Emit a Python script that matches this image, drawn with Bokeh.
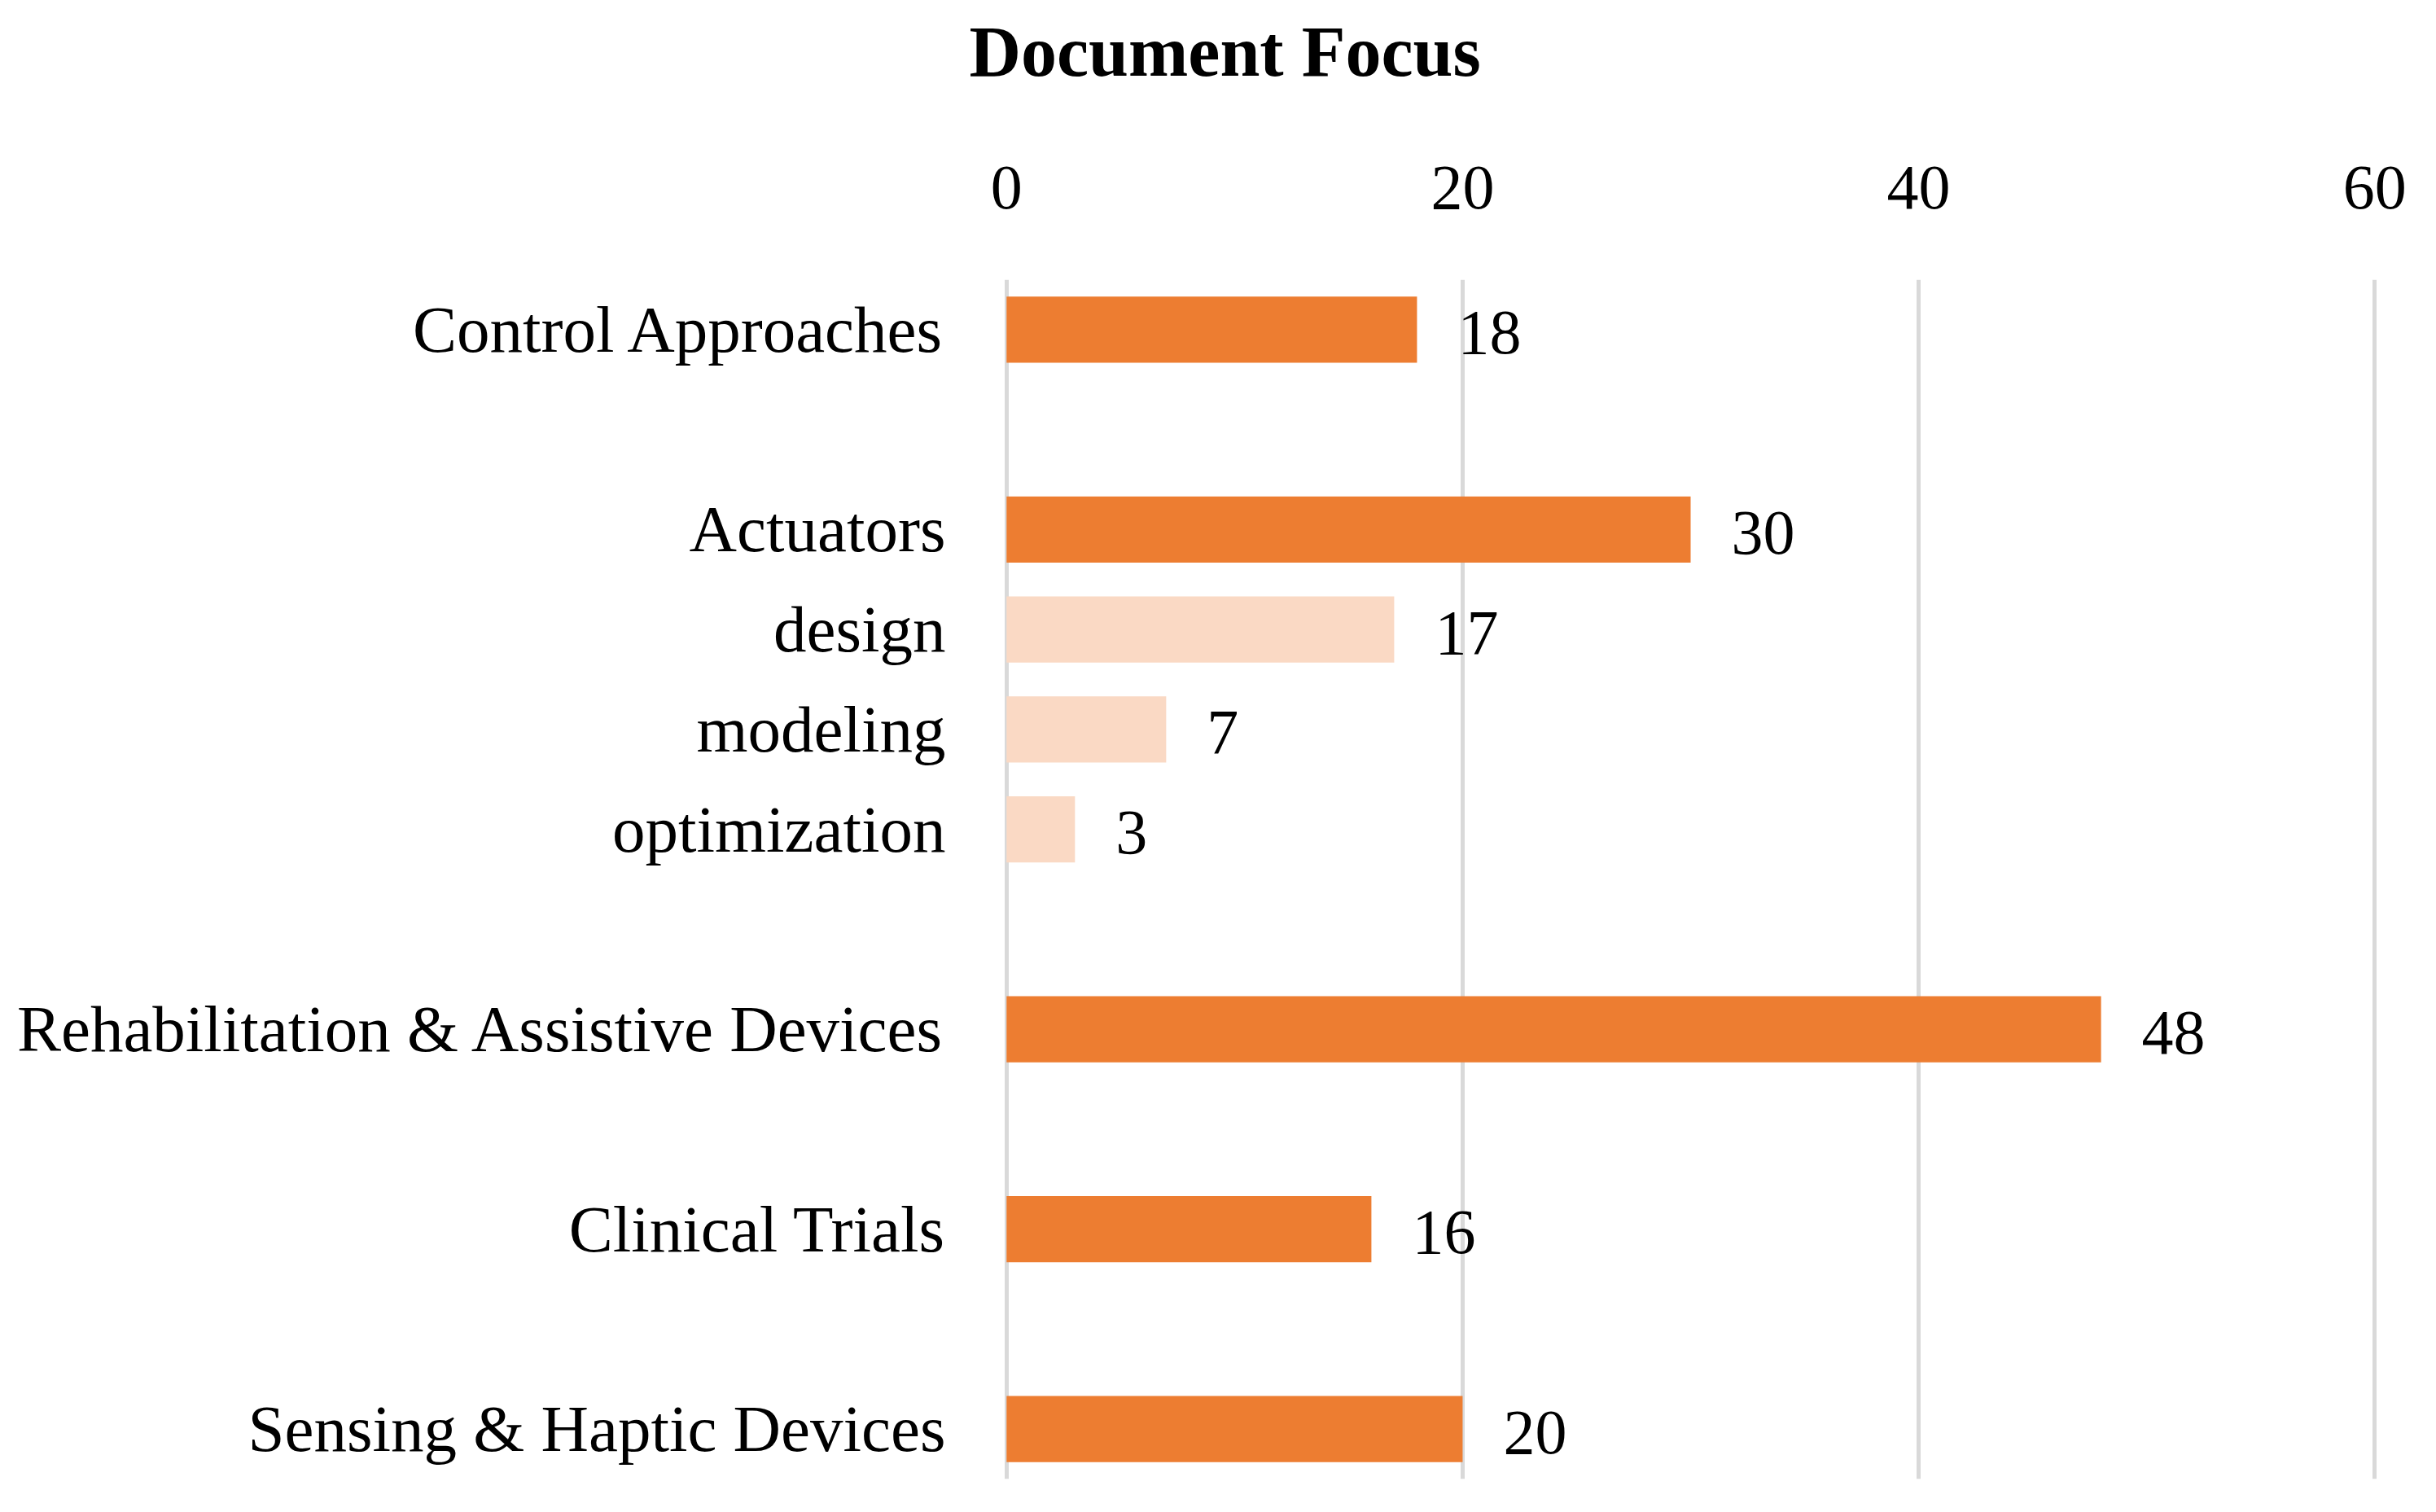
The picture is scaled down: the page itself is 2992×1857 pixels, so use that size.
from bokeh.plotting import figure
from bokeh.models import ColumnDataSource, Range1d, FixedTicker, LinearAxis, Title
from bokeh.core.properties import value
from bokeh.embed import file_html
from bokeh.resources import INLINE

# ---- data ----
categories = ["Control Approaches", "Actuators", "design", "modeling", "optimization",
              "Rehabilitation & Assistive Devices", "Clinical Trials", "Sensing & Haptic Devices"]
values = [18, 30, 17, 7, 3, 48, 16, 20]
group = [0, 1, 1, 1, 1, 2, 3, 4]
level = ["main", "main", "sub", "sub", "sub", "main", "main", "main"]
x_ticks = [0, 20, 40, 60]
title_text = "Document Focus"

# ---- derived ----
rows = [i + g for i, g in enumerate(group)]
n_slots = rows[-1] + 1
palette = {"main": "#ED7D31", "sub": "#FAD9C4"}
colors = [palette[l] for l in level]
labels = [str(v) for v in values]

src = ColumnDataSource(dict(y=rows, v=values, c=colors, t=labels))

FONT = "Liberation Serif"
W, H = 2976, 1841

p = figure(width=W, height=H, output_backend="svg", toolbar_location=None, title=None,
           x_range=Range1d(-0.1, 60.1), y_range=Range1d(n_slots - 0.5, -0.5),
           x_axis_location=None, y_axis_location=None,
           min_border_left=1233, min_border_right=57, min_border_top=342, min_border_bottom=25)
p.outline_line_color = None
p.background_fill_color = "white"
p.border_fill_color = "white"

# top axis
xa = LinearAxis(ticker=FixedTicker(ticks=x_ticks))
xa.axis_line_color = None
xa.major_tick_line_color = None
xa.minor_tick_line_color = None
xa.major_label_text_font = FONT
xa.major_label_text_font_size = "78px"
xa.major_label_text_color = "black"
xa.major_label_standoff = 82
p.add_layout(xa, "above")

# left axis
ya = LinearAxis(ticker=FixedTicker(ticks=rows),
                major_label_overrides={r: c for r, c in zip(rows, categories)})
ya.axis_line_color = None
ya.major_tick_line_color = None
ya.minor_tick_line_color = None
ya.major_label_text_font = FONT
ya.major_label_text_font_size = "81px"
ya.major_label_text_color = "black"
ya.major_label_standoff = 66
p.add_layout(ya, "left")

p.xgrid.ticker = FixedTicker(ticks=x_ticks)
p.xgrid.grid_line_color = "#D9D9D9"
p.xgrid.grid_line_width = 5
p.ygrid.grid_line_color = None

p.hbar(y="y", left=0, right="v", height=0.66, fill_color="c", line_color=None, source=src)
p.text(x="v", y="y", text="t", source=src, x_offset=50, y_offset=4,
       text_font=value(FONT), text_font_size="78px", text_baseline="middle",
       text_align="left", text_color="black")

# spacer between the axis labels and the chart title
p.add_layout(Title(text=" ", text_font_size="20px", standoff=54), "above")
# chart title
p.add_layout(Title(text=title_text, text_font=FONT, text_font_style="bold",
                   text_font_size="88px", text_color="black",
                   align="left", offset=-43, standoff=24), "above")

open("out.html", "w").write(file_html(p, INLINE))
